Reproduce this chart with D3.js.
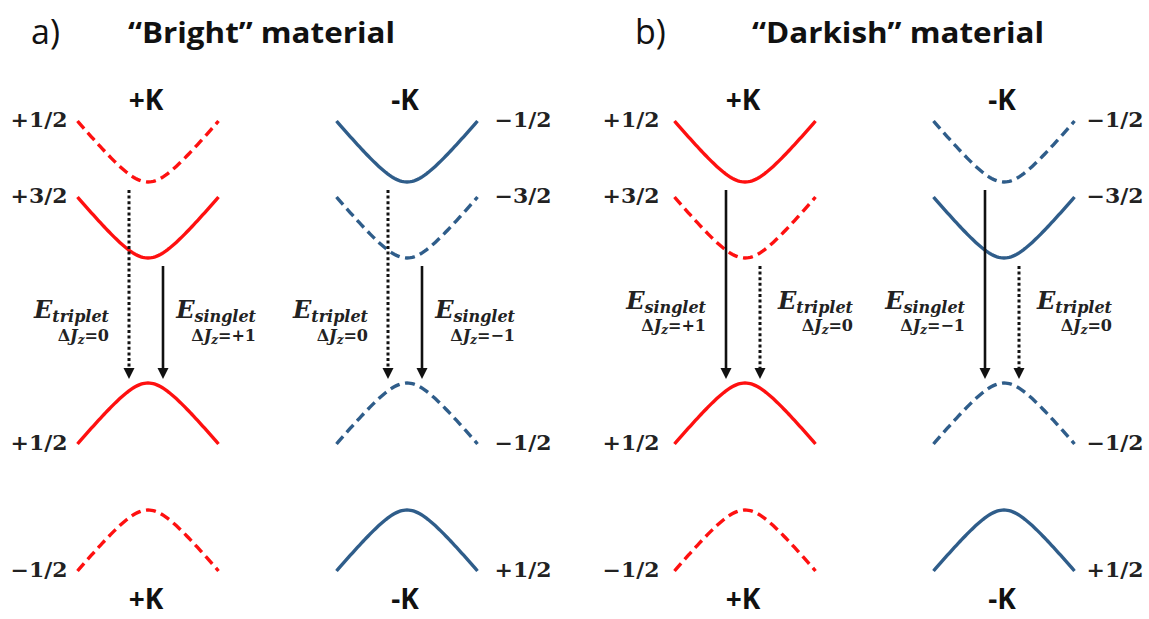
<!DOCTYPE html>
<html><head><meta charset="utf-8">
<script src="https://cdn.jsdelivr.net/npm/d3@7"></script>
<style>body{margin:0;background:#fff} svg{display:block}</style>
</head><body><svg id="c" width="1149" height="619"></svg>
<script>
// ---------- data ----------
const panels = ["a)", "b)"];
const panelTitles = ["“Bright” material", "“Darkish” material"];
const valleys = ["+K", "-K"];
// band extrema energies (arbitrary units) at k = 0
const conductionMin = [8.36, 6.84];   // upper, lower spin-split conduction band
const valenceMax = [4.34, 1.80];      // upper, lower spin-split valence band
const edgeShift = 1.22;               // energy change from k=0 to k=±1
const massParam = 0.35;               // massive-Dirac dispersion parameter
// spin labels per valley: [cbUpper, cbLower, vbUpper, vbLower]
const spinLabels = {
  "+K": ["+1/2", "+3/2", "+1/2", "−1/2"],
  "-K": ["−1/2", "−3/2", "−1/2", "+1/2"]
};
// which bands are drawn solid (true) or dashed (false)
const solidBands = {
  "a)": {"+K": [false, true, true, false], "-K": [true, false, false, true]},
  "b)": {"+K": [true, false, true, false], "-K": [false, true, false, true]}
};
// transitions: from conduction band index -> upper valence band
const transitions = {
  "a)": [
    {from: 0, name: "triplet", dj: {"+K": "0", "-K": "0"}, dotted: true},
    {from: 1, name: "singlet", dj: {"+K": "+1", "-K": "−1"}, dotted: false}
  ],
  "b)": [
    {from: 0, name: "singlet", dj: {"+K": "+1", "-K": "−1"}, dotted: false},
    {from: 1, name: "triplet", dj: {"+K": "0", "-K": "0"}, dotted: true}
  ]
};
const valleyColors = {"+K": "#fe1010", "-K": "#2f5d8a"};

// ---------- layout ----------
const svg = d3.select("#c");
const panelX = d3.scaleBand().domain(panels).range([0, 1194]);
const valleyX = d3.scalePoint().domain(valleys).range([148, 407]);
const kScale = d3.scaleLinear().domain([-1, 1]).range([-70.5, 70.5]);
const y = d3.scaleLinear().domain([0, 10]).range([600, 100]);
const titlePos = {"a)": {lx: 31, tx: 128, tw: 267}, "b)": {lx: 635, tx: 752, tw: 292}};
const labelPanelShift = {"a)": 0, "b)": -5};
const eLabelY = {"a)": [318, 341], "b)": [309, 331]};

const ks = d3.range(-1, 1.0001, 0.025);
const shape = k => (Math.sqrt(massParam * massParam + k * k) - massParam) /
                   (Math.sqrt(massParam * massParam + 1) - massParam);

// titles
panels.forEach((p, i) => {
  svg.append("text").attr("x", titlePos[p].lx).attr("y", 44)
    .attr("font-family", "Open Sans").attr("font-size", 34).attr("fill", "#111")
    .text(p);
  svg.append("text").attr("x", titlePos[p].tx).attr("y", 43)
    .attr("font-family", "Open Sans").attr("font-weight", "bold").attr("font-size", 29)
    .attr("fill", "#111").attr("textLength", titlePos[p].tw).attr("lengthAdjust", "spacingAndGlyphs")
    .text(panelTitles[i]);
});

panels.forEach(p => {
  valleys.forEach(v => {
    const cx = panelX(p) + valleyX(v);
    const g = svg.append("g").attr("transform", `translate(${cx},0)`);
    const col = valleyColors[v];
    const bands = [
      {e0: conductionMin[0], sgn: 1}, {e0: conductionMin[1], sgn: 1},
      {e0: valenceMax[0], sgn: -1}, {e0: valenceMax[1], sgn: -1}
    ];
    bands.forEach((b, bi) => {
      const line = d3.line().x(k => kScale(k)).y(k => y(b.e0 + b.sgn * edgeShift * shape(k)));
      g.append("path").attr("d", line(ks)).attr("fill", "none")
        .attr("stroke", col).attr("stroke-width", 3.4)
        .attr("stroke-dasharray", solidBands[p][v][bi] ? null : "10,5.5");
      // spin label
      const ey = y(b.e0 + b.sgn * edgeShift);
      const left = v === "+K";
      svg.append("text")
        .attr("x", left ? cx + kScale(-1) - 10 + labelPanelShift[p] : cx + kScale(1) + 17 + labelPanelShift[p])
        .attr("y", ey + 6)
        .attr("text-anchor", left ? "end" : "start")
        .attr("font-family", "DejaVu Serif").attr("font-weight", "bold").attr("font-size", 20)
        .attr("fill", "#222")
        .attr("textLength", 57).attr("lengthAdjust", "spacingAndGlyphs")
        .text(spinLabels[v][bi]);
    });
    // valley labels
    [110, 609].forEach(ty => {
      svg.append("text").attr("x", cx - 2).attr("y", ty).attr("text-anchor", "middle")
        .attr("font-family", "Open Sans").attr("font-weight", "bold").attr("font-size", 28)
        .attr("fill", "#111").text(v);
    });
    // transitions
    transitions[p].forEach(t => {
      const ax = t.from === 0 ? -19 : 15;
      const y0 = y(conductionMin[t.from]) + 8;
      const yt = y(valenceMax[0]) - 4;
      g.append("line").attr("x1", ax).attr("x2", ax).attr("y1", y0).attr("y2", yt - 9)
        .attr("stroke", "#111").attr("stroke-width", t.dotted ? 3 : 2.6)
        .attr("stroke-dasharray", t.dotted ? "3,2.6" : null);
      g.append("path").attr("d", `M${ax - 5.5},${yt - 11}L${ax + 5.5},${yt - 11}L${ax},${yt}Z`)
        .attr("fill", "#111");
      // label
      const tx = t.from === 0 ? ax - 20 : ax + 93;
      const tl = g.append("text").attr("x", tx).attr("y", eLabelY[p][0]).attr("text-anchor", "end")
        .attr("font-family", "DejaVu Serif").attr("font-weight", "bold").attr("font-style", "italic")
        .attr("fill", "#222");
      tl.append("tspan").attr("font-size", 24).text("E");
      tl.append("tspan").attr("font-size", 16).attr("dy", 4).text(t.name);
      const dl = g.append("text").attr("x", tx).attr("y", eLabelY[p][1]).attr("text-anchor", "end")
        .attr("font-family", "DejaVu Serif").attr("font-weight", "bold").attr("font-size", 16)
        .attr("fill", "#222");
      dl.append("tspan").text("Δ");
      dl.append("tspan").attr("font-style", "italic").text("J");
      dl.append("tspan").attr("font-style", "italic").attr("font-size", 12).attr("dy", 3).text("z");
      dl.append("tspan").attr("dy", -3).text("=" + t.dj[v]);
    });
  });
});
</script></body></html>
